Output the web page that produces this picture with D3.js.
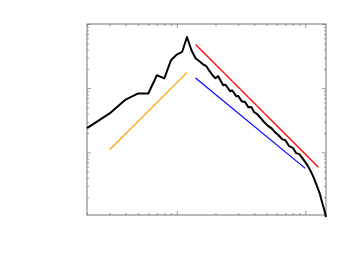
<!DOCTYPE html>
<html>
<head>
<meta charset="utf-8">
<script src="https://cdn.jsdelivr.net/npm/d3@7"></script>
<style>
  body { margin: 0; background: #fff; }
  svg { display: block; }
</style>
</head>
<body>
<div id="chart"></div>
<script>
// Degree values (x) and their frequencies (y)
const degrees = [2, 3, 4, 5, 6, 7, 8, 9, 10, 11, 12, 13, 14, 15, 16, 17, 18, 19, 20, 21,
  22, 23, 24, 25, 26, 27, 28, 29, 30, 32, 34, 36, 38, 40, 42, 45, 48, 51, 55, 58,
  62, 66, 70, 75, 80, 85, 90, 95, 100, 105, 110, 115, 120, 125, 130, 135, 140, 145];
const freqs = [2.39e-3, 4.05e-3, 6.66e-3, 8.28e-3, 8.28e-3, 1.59e-2, 1.42e-2, 2.72e-2, 3.34e-2, 3.67e-2,
  6.28e-2, 3.9e-2, 2.93e-2, 2.63e-2, 2.36e-2, 2.2e-2, 1.84e-2, 1.59e-2, 1.43e-2, 1.54e-2,
  1.29e-2, 1.11e-2, 1.13e-2, 1.0e-2, 8.98e-3, 9.2e-3, 8.36e-3, 7.51e-3, 7.6e-3, 6.28e-3,
  6.1e-3, 5.07e-3, 5.1e-3, 4.24e-3, 4.0e-3, 3.41e-3, 2.95e-3, 2.61e-3, 2.35e-3, 2.07e-3,
  1.85e-3, 1.61e-3, 1.55e-3, 1.25e-3, 1.18e-3, 9.75e-4, 9.4e-4, 8.15e-4, 7.06e-4, 6.12e-4,
  5.12e-4, 4.28e-4, 3.45e-4, 2.79e-4, 2.25e-4, 1.69e-4, 1.31e-4, 9.9e-5];

// Reference power-law lines: [x, y] end points
const orangeFit = [[3, 1.1e-3], [12, 1.75e-2]];
const redFit = [[14, 4.79e-2], [126.5, 5.87e-4]];
const blueFit = [[14, 1.445e-2], [100, 5.64e-4]];

const width = 354;
const height = 275;
const box = { left: 87, right: 326, top: 24, bottom: 215 };

const xScale = d3.scaleLog().domain([2, 145]).range([box.left, box.right]);
const yScale = d3.scaleLog().domain([1.06e-4, 0.1]).range([box.bottom, box.top]);

const svg = d3.select('#chart')
  .append('svg')
  .attr('width', width)
  .attr('height', height);

// Ticks pointing inward on all four sides
const xMinor = xScale.ticks().filter(d => Math.abs(Math.log10(d) % 1) > 1e-6);
const xMajor = xScale.ticks().filter(d => Math.abs(Math.log10(d) % 1) < 1e-6);
const yMinor = yScale.ticks().filter(d => Math.abs(Math.log10(d) - Math.round(Math.log10(d))) > 1e-6);
const yMajor = yScale.ticks().filter(d => Math.abs(Math.log10(d) - Math.round(Math.log10(d))) < 1e-6);

function addAxis(axisFn, scale, values, size, transform) {
  const g = svg.append('g')
    .attr('transform', transform)
    .call(axisFn(scale).tickValues(values).tickSize(-size).tickFormat(''));
  g.select('.domain').remove();
  g.selectAll('line').attr('stroke', '#999');
}

addAxis(d3.axisBottom, xScale, xMinor, 2, `translate(0,${box.bottom})`);
addAxis(d3.axisBottom, xScale, xMajor, 4, `translate(0,${box.bottom})`);
addAxis(d3.axisTop, xScale, xMinor, 2, `translate(0,${box.top})`);
addAxis(d3.axisTop, xScale, xMajor, 4, `translate(0,${box.top})`);
addAxis(d3.axisLeft, yScale, yMinor, 2, `translate(${box.left},0)`);
addAxis(d3.axisLeft, yScale, yMajor, 4, `translate(${box.left},0)`);
addAxis(d3.axisRight, yScale, yMinor, 2, `translate(${box.right},0)`);
addAxis(d3.axisRight, yScale, yMajor, 4, `translate(${box.right},0)`);

// Frame
svg.append('rect')
  .attr('x', box.left)
  .attr('y', box.top)
  .attr('width', box.right - box.left)
  .attr('height', box.bottom - box.top)
  .attr('fill', 'none')
  .attr('stroke', '#777')
  .attr('stroke-width', 1);

const line = d3.line().x(d => xScale(d[0])).y(d => yScale(d[1]));

const plot = svg.append('g');

// Fit lines
[[orangeFit, '#FFA500'], [redFit, '#FF0000'], [blueFit, '#0000FF']].forEach(([pts, color]) => {
  plot.append('path')
    .datum(pts)
    .attr('fill', 'none')
    .attr('stroke', color)
    .attr('stroke-width', 1.2)
    .attr('d', line);
});

// Degree distribution
const series = degrees.map((d, i) => [d, freqs[i]]);
plot.append('path')
  .datum(series)
  .attr('fill', 'none')
  .attr('stroke', '#000')
  .attr('stroke-width', 2)
  .attr('stroke-linejoin', 'round')
  .attr('d', line);
</script>
</body>
</html>
